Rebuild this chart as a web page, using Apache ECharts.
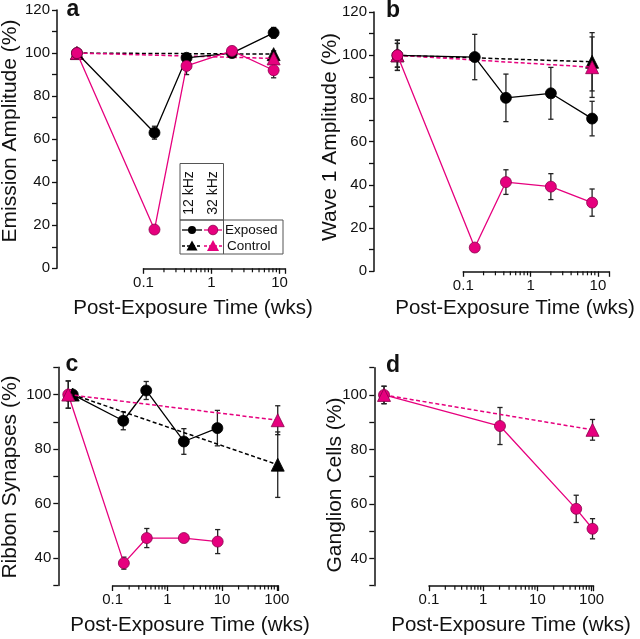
<!DOCTYPE html>
<html>
<head>
<meta charset="utf-8">
<title>Post-exposure time course</title>
<script src="https://cdn.jsdelivr.net/npm/echarts@6.0.0/dist/echarts.min.js"></script>
<style>
  html, body { margin: 0; padding: 0; background: #fff; }
  #chart { width: 640px; height: 639px; }
</style>
</head>
<body>
<div id="chart"></div>
<script>
// ---- values ----
// a: emission amplitude (%)
const timeA = [0.0105, 0.145, 0.43, 2, 8.2];
const emission12 = [100, 63, 97.8, 100, 109.4];
const emission12Err = [1, 3, 2, 2, 2.5];
const emission32 = [100, 18, 94, 101, 92];
const emission32Err = [1.2, 1, 4, 2, 3.5];
const ctrlTimeA = [0.0105, 8.2];
const emissionCtrl12 = [100, 99.5];
const emissionCtrl12Err = [1, 1.5];
const emissionCtrl32 = [100, 97.5];
const emissionCtrl32Err = [1, 2];

// b: wave 1 amplitude (%)
const timeB = [0.0105, 0.148, 0.43, 2, 8.2];
const wave12 = [100, 99.2, 80.3, 82.4, 70.7];
const wave12Err = [7, 10.5, 11, 12, 8];
const wave32 = [100, 11, 41.3, 39.2, 31.8];
const wave32Err = [5.5, 0.8, 5.7, 6, 6.3];
const ctrlTimeB = [0.0105, 8.2];
const waveCtrl12 = [100, 97];
const waveCtrl12Err = [7, 13.5];
const waveCtrl32 = [100, 94.5];
const waveCtrl32Err = [5.5, 14];

// c: ribbon synapses (%)
const timeC12 = [0.0186, 0.156, 0.41, 2, 8.2];
const timeC32 = [0.0154, 0.16, 0.42, 2, 8.3];
const ribbon12 = [100, 90.4, 101.5, 82.8, 87.7];
const ribbon12Err = [0, 3.3, 3.3, 4.7, 6.5];
const ribbon32 = [100, 38.2, 47.4, 47.4, 46.1];
const ribbon32Err = [5, 2.2, 3.5, 1.2, 4.4];
const ctrlTimeC12 = [0.0186, 104];
const ctrlTimeC32 = [0.0154, 104];
const ribbonCtrl12 = [100, 74.3];
const ribbonCtrl12Err = [0, 12];
const ribbonCtrl32 = [100, 90.6];
const ribbonCtrl32Err = [5, 5.3];

// d: ganglion cells (%)
const timeD = [0.0148, 2.04, 52, 104];
const ganglion32 = [100, 88.6, 58.2, 50.9];
const ganglion32Err = [3.2, 6.8, 5, 3.7];
const ctrlTimeD = [0.0148, 104];
const ganglionCtrl32 = [100, 87.2];
const ganglionCtrl32Err = [3.2, 3.8];

// minor ticks of the log time axes
const minorTickValues = [0.2, 0.3, 0.4, 0.5, 0.6, 0.7, 0.8, 0.9,
    2, 3, 4, 5, 6, 7, 8, 9,
    20, 30, 40, 50, 60, 70, 80, 90];

const yTitles = ['Emission Amplitude (%)', 'Wave 1 Amplitude (%)', 'Ribbon Synapses (%)', 'Ganglion Cells (%)'];
const xTitle = 'Post-Exposure Time (wks)';
const panelLetters = ['a', 'b', 'c', 'd'];

// ---- layout (pixels) ----
// yAxisX, px of x=1, px per decade, right end of x axis, top, bottom, y range
const panels = [
    {yx: 57,    one: 211.5, dec: 68,   end: 285,   top: 10,    bottom: 268.3, ymin: 0,  ymax: 120},
    {yx: 374,   one: 530.6, dec: 67.3, end: 609,   top: 12.1,  bottom: 271.3, ymin: 0,  ymax: 120},
    {yx: 58.3,  one: 167.4, dec: 54.7, end: 278.3, top: 367.3, bottom: 585.5, ymin: 30, ymax: 110},
    {yx: 374.3, one: 483.2, dec: 54.2, end: 593.5, top: 367.7, bottom: 585.7, ymin: 30, ymax: 110}
];

const PINK = '#e6007e';
const BLACK = '#000000';
const INK = '#111111';
const FONT = '"Liberation Sans", Arial, sans-serif';

const W = 640, H = 639;
const grids = [], xAxes = [], yAxes = [];

panels.forEach(function (p, i) {
    const xAt = function (px) { return Math.pow(10, (px - p.one) / p.dec); };
    const zeroOne = p.one - p.dec; // px of 0.1
    p.xmax = xAt(p.end);
    // data grid: spans from the y axis to the end of the x axis
    grids.push({left: p.yx, top: p.top, width: p.end - p.yx, height: p.bottom - p.top});
    xAxes.push({type: 'log', gridIndex: 2 * i, min: xAt(p.yx), max: p.xmax, show: false});
    yAxes.push({
        type: 'value', gridIndex: 2 * i, min: p.ymin, max: p.ymax, interval: 10,
        axisLine: {show: true, lineStyle: {color: INK, width: 1.5}},
        axisTick: {show: true, length: 5, lineStyle: {color: INK, width: 1.3}},
        axisLabel: {
            fontSize: 15, color: INK, fontFamily: FONT, margin: 7,
            formatter: function (v) { return v % 20 === 0 ? String(v) : ''; }
        },
        splitLine: {show: false}
    });
    // axis grid: the visible log axis starts at 0.1
    grids.push({left: zeroOne, top: p.top, width: p.end - zeroOne, height: p.bottom - p.top});
    xAxes.push({
        type: 'log', gridIndex: 2 * i + 1, min: 0.1, max: p.xmax, logBase: 10,
        axisLine: {show: true, lineStyle: {color: INK, width: 1.5}},
        axisTick: {show: true, length: 5.5, lineStyle: {color: INK, width: 1.3}},
        axisLabel: {
            fontSize: 15, color: INK, fontFamily: FONT, margin: 7,
            formatter: function (v) {
                const l = Math.log10(v);
                return Math.abs(l - Math.round(l)) < 1e-6 ? String(+v.toPrecision(3)) : '';
            }
        },
        splitLine: {show: false}
    });
    yAxes.push({type: 'value', gridIndex: 2 * i + 1, min: 0, max: 1, show: false});
});

function pairs(xs, ys) {
    return xs.map(function (x, k) { return [x, ys[k]]; });
}

function bars(xs, ys, es) {
    return xs.map(function (x, k) { return [x, ys[k] - es[k], ys[k] + es[k]]; });
}

function renderErr(params, api) {
    const lo = api.coord([api.value(0), api.value(1)]);
    const hi = api.coord([api.value(0), api.value(2)]);
    const w = 2.6;
    const st = {stroke: '#222', lineWidth: 1.3};
    return {
        type: 'group',
        children: [
            {type: 'line', shape: {x1: lo[0], y1: lo[1], x2: hi[0], y2: hi[1]}, style: st},
            {type: 'line', shape: {x1: lo[0] - w, y1: lo[1], x2: lo[0] + w, y2: lo[1]}, style: st},
            {type: 'line', shape: {x1: hi[0] - w, y1: hi[1], x2: hi[0] + w, y2: hi[1]}, style: st}
        ]
    };
}

function renderMinorTick(params, api) {
    const pt = api.coord([api.value(0), api.value(1)]);
    return {
        type: 'line',
        shape: {x1: pt[0], y1: pt[1], x2: pt[0], y2: pt[1] + 4},
        style: {stroke: INK, lineWidth: 1.2}
    };
}

function lineSeries(p, xs, ys, color, dashed, symbol, z) {
    return {
        type: 'line', xAxisIndex: 2 * p, yAxisIndex: 2 * p, data: pairs(xs, ys),
        symbol: symbol, symbolSize: symbol === 'triangle' ? 13 : 11, showAllSymbol: true,
        lineStyle: {color: color, width: dashed ? 1.5 : 1.3, type: dashed ? [4, 2.5] : 'solid'},
        itemStyle: {color: color, borderColor: color === PINK ? '#8c004c' : BLACK, borderWidth: 0.8, opacity: 1},
        emphasis: {disabled: true}, silent: true, z: z, animation: false
    };
}

function errSeries(p, xs, ys, es) {
    return {
        type: 'custom', xAxisIndex: 2 * p, yAxisIndex: 2 * p, data: bars(xs, ys, es),
        encode: {x: 0, y: [1, 2]}, renderItem: renderErr, silent: true, z: 1, animation: false
    };
}

function minorTickSeries(p) {
    const vals = minorTickValues.filter(function (v) { return v < panels[p].xmax; });
    return {
        type: 'custom', xAxisIndex: 2 * p + 1, yAxisIndex: 2 * p + 1,
        data: vals.map(function (v) { return [v, 0]; }),
        encode: {x: 0, y: 1},
        renderItem: renderMinorTick, silent: true, z: 6, animation: false
    };
}

const series = [
    // a
    errSeries(0, timeA, emission12, emission12Err),
    errSeries(0, timeA, emission32, emission32Err),
    errSeries(0, ctrlTimeA, emissionCtrl12, emissionCtrl12Err),
    errSeries(0, ctrlTimeA, emissionCtrl32, emissionCtrl32Err),
    lineSeries(0, ctrlTimeA, emissionCtrl12, BLACK, true, 'triangle', 2),
    lineSeries(0, ctrlTimeA, emissionCtrl32, PINK, true, 'triangle', 3),
    lineSeries(0, timeA, emission12, BLACK, false, 'circle', 4),
    lineSeries(0, timeA, emission32, PINK, false, 'circle', 5),
    // b
    errSeries(1, timeB, wave12, wave12Err),
    errSeries(1, timeB, wave32, wave32Err),
    errSeries(1, ctrlTimeB, waveCtrl12, waveCtrl12Err),
    errSeries(1, ctrlTimeB, waveCtrl32, waveCtrl32Err),
    lineSeries(1, ctrlTimeB, waveCtrl12, BLACK, true, 'triangle', 2),
    lineSeries(1, ctrlTimeB, waveCtrl32, PINK, true, 'triangle', 3),
    lineSeries(1, timeB, wave12, BLACK, false, 'circle', 4),
    lineSeries(1, timeB, wave32, PINK, false, 'circle', 5),
    // c
    errSeries(2, timeC12, ribbon12, ribbon12Err),
    errSeries(2, timeC32, ribbon32, ribbon32Err),
    errSeries(2, ctrlTimeC12, ribbonCtrl12, ribbonCtrl12Err),
    errSeries(2, ctrlTimeC32, ribbonCtrl32, ribbonCtrl32Err),
    lineSeries(2, timeC12, ribbon12, BLACK, false, 'circle', 2),
    lineSeries(2, timeC32, ribbon32, PINK, false, 'circle', 3),
    lineSeries(2, ctrlTimeC12, ribbonCtrl12, BLACK, true, 'triangle', 4),
    lineSeries(2, ctrlTimeC32, ribbonCtrl32, PINK, true, 'triangle', 5),
    // d
    errSeries(3, timeD, ganglion32, ganglion32Err),
    errSeries(3, ctrlTimeD, ganglionCtrl32, ganglionCtrl32Err),
    lineSeries(3, timeD, ganglion32, PINK, false, 'circle', 3),
    lineSeries(3, ctrlTimeD, ganglionCtrl32, PINK, true, 'triangle', 4),
    // minor ticks on the time axes
    minorTickSeries(0),
    minorTickSeries(1),
    minorTickSeries(2),
    minorTickSeries(3)
];

// ---- titles, panel letters and the legend box ----
const textStyle = function (txt, size, weight) {
    return {text: txt, font: (weight || 'normal') + ' ' + size + 'px ' + FONT, fill: INK, align: 'center', verticalAlign: 'middle'};
};

const graphics = [];
const yTitlePos = [[10, 131], [330, 137], [10, 477], [335, 485]];
const xTitlePos = [[193, 308], [515, 308], [190, 625], [511, 625]];
const letterPos = [[73, 10], [393, 11], [72, 365], [393, 366]];
for (let i = 0; i < 4; i++) {
    graphics.push({type: 'text', x: yTitlePos[i][0], y: yTitlePos[i][1], rotation: Math.PI / 2, style: textStyle(yTitles[i], 21)});
    graphics.push({type: 'text', x: xTitlePos[i][0], y: xTitlePos[i][1], style: textStyle(xTitle, 20.5)});
    graphics.push({type: 'text', x: letterPos[i][0], y: letterPos[i][1], style: textStyle(panelLetters[i], 23, 'bold')});
}

// legend in panel a
const box = {stroke: '#555', lineWidth: 1, fill: null};
const tri = function (cx, cy, s) {
    return [[cx, cy - s * 0.55], [cx + s * 0.55, cy + s * 0.45], [cx - s * 0.55, cy + s * 0.45]];
};
graphics.push(
    {type: 'rect', shape: {x: 180, y: 163.5, width: 43.5, height: 56.5}, style: box},
    {type: 'rect', shape: {x: 180, y: 220, width: 103, height: 34}, style: box},
    {type: 'line', shape: {x1: 223.5, y1: 220, x2: 223.5, y2: 254}, style: box},
    {type: 'text', x: 189.5, y: 193, rotation: Math.PI / 2, style: textStyle('12 kHz', 14)},
    {type: 'text', x: 213, y: 193, rotation: Math.PI / 2, style: textStyle('32 kHz', 14)},
    {type: 'line', shape: {x1: 182, y1: 230, x2: 202, y2: 230}, style: {stroke: BLACK, lineWidth: 1.3}},
    {type: 'line', shape: {x1: 204, y1: 230, x2: 222, y2: 230}, style: {stroke: PINK, lineWidth: 1.3}},
    {type: 'circle', shape: {cx: 192, cy: 230, r: 4}, style: {fill: BLACK}},
    {type: 'circle', shape: {cx: 213, cy: 230, r: 4.8}, style: {fill: PINK, stroke: '#8c004c', lineWidth: 0.8}},
    {type: 'line', shape: {x1: 182, y1: 246, x2: 202, y2: 246}, style: {stroke: BLACK, lineWidth: 1.3, lineDash: [3, 2]}},
    {type: 'line', shape: {x1: 204, y1: 246, x2: 222, y2: 246}, style: {stroke: PINK, lineWidth: 1.3, lineDash: [3, 2]}},
    {type: 'polygon', shape: {points: tri(192, 246, 10)}, style: {fill: BLACK}},
    {type: 'polygon', shape: {points: tri(213, 246, 11)}, style: {fill: PINK}},
    {type: 'text', x: 225, y: 230, style: Object.assign(textStyle('Exposed', 13.5), {align: 'left'})},
    {type: 'text', x: 227, y: 246, style: Object.assign(textStyle('Control', 13.5), {align: 'left'})}
);

const chart = echarts.init(document.getElementById('chart'), null, {renderer: 'canvas', width: W, height: H});
chart.setOption({
    backgroundColor: '#ffffff',
    animation: false,
    grid: grids,
    xAxis: xAxes,
    yAxis: yAxes,
    series: series,
    graphic: graphics
});
</script>
</body>
</html>
